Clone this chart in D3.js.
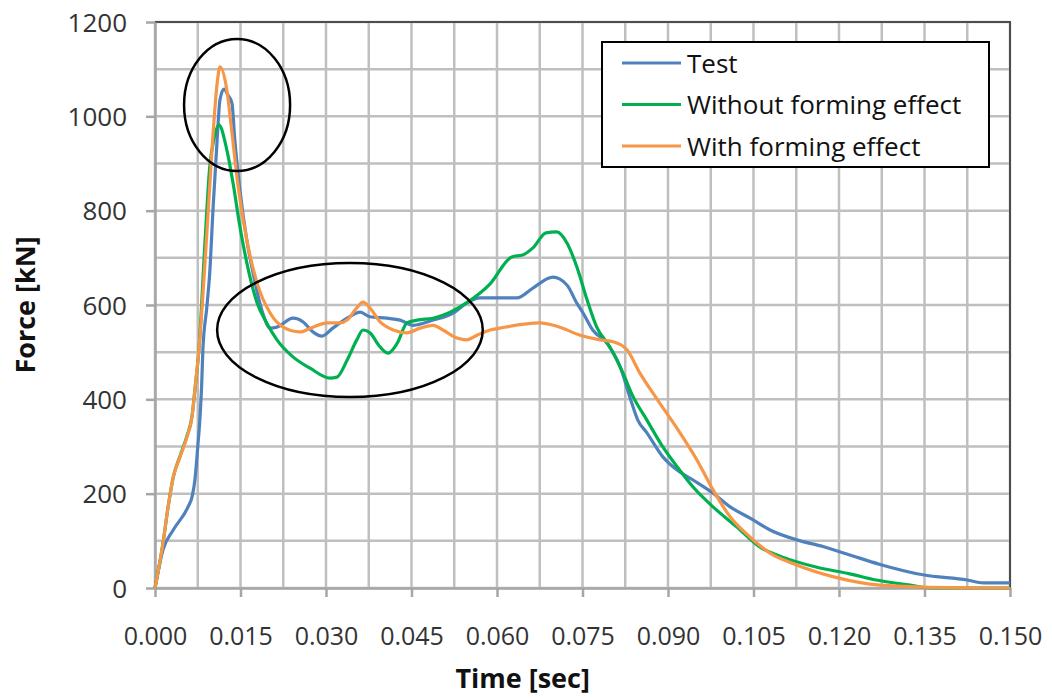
<!DOCTYPE html>
<html>
<head>
<meta charset="utf-8">
<script src="https://cdn.jsdelivr.net/npm/d3@7"></script>
<style>
  html, body { margin: 0; padding: 0; background: #fff; }
  svg { display: block; font-family: "Open Sans", "Liberation Sans", sans-serif; }
</style>
</head>
<body>
<svg id="chart" width="1052" height="700"></svg>
<script>
// ---- data: impact force history ----
const seriesNames = ["Test", "Without forming effect", "With forming effect"];

// Test measurement
const testTime  = [0,0.0014,0.0032,0.0058,0.0065,0.0070,0.0075,0.0079,0.0082,0.0084,0.0091,0.0096,0.0102,0.0109,0.0114,0.0121,0.0128,0.0135,0.0140,0.0149,0.0161,0.0172,0.0189,0.0202,0.0214,0.0242,0.0260,0.0277,0.0293,0.0312,0.0337,0.0360,0.0377,0.0407,0.0430,0.0453,0.0488,0.0523,0.0547,0.0570,0.0635,0.0663,0.0698,0.0723,0.0740,0.0751,0.0768,0.0793,0.0816,0.0833,0.0847,0.0863,0.0891,0.0916,0.0944,0.0979,0.1009,0.1044,0.1079,0.1126,0.1172,0.1219,0.1272,0.1347,0.1425,0.1453,0.1500];
const testForce = [0,81,123,172,193,229,299,363,435,505,596,668,808,950,1035,1058,1045,1028,950,844,738,668,583,551,553,572,564,543,534,551,572,585,575,572,568,557,568,583,604,615,615,636,659,642,604,583,547,519,469,405,356,329,278,250,229,201,172,148,123,102,88,70,50,28,17,11,11];

// Simulation without forming effect
const withoutTime  = [0,0.0014,0.0023,0.0032,0.0044,0.0056,0.0065,0.0070,0.0077,0.0088,0.0096,0.0104,0.0112,0.0126,0.0137,0.0149,0.0161,0.0179,0.0196,0.0214,0.0242,0.0272,0.0307,0.0319,0.0337,0.0354,0.0365,0.0377,0.0395,0.0409,0.0425,0.0442,0.0460,0.0488,0.0518,0.0547,0.0588,0.0626,0.0645,0.0663,0.0686,0.0705,0.0723,0.0740,0.0758,0.0775,0.0798,0.0821,0.0837,0.0863,0.0891,0.0916,0.0944,0.0979,0.1021,0.1061,0.1100,0.1158,0.1219,0.1265,0.1325,0.1360,0.1500];
const withoutForce = [0,95,172,235,280,322,365,420,505,740,893,955,982,929,858,766,690,605,562,526,490,466,445,447,483,526,547,541,511,498,519,562,568,572,585,605,645,702,706,721,753,755,731,681,611,553,511,456,410,356,299,257,214,172,129,87,66,45,30,17,6,0,0];

// Simulation with forming effect
const withTime  = [0,0.0014,0.0023,0.0032,0.0044,0.0056,0.0065,0.0070,0.0077,0.0091,0.0100,0.0109,0.0114,0.0126,0.0135,0.0146,0.0161,0.0179,0.0202,0.0225,0.0254,0.0277,0.0302,0.0325,0.0337,0.0354,0.0365,0.0377,0.0395,0.0418,0.0442,0.0465,0.0488,0.0505,0.0530,0.0547,0.0565,0.0588,0.0605,0.0675,0.0705,0.0746,0.0781,0.0804,0.0828,0.0851,0.0881,0.0921,0.0951,0.0979,0.1009,0.1044,0.1079,0.1119,0.1196,0.1272,0.1347,0.1500];
const withForce = [0,95,172,235,278,320,363,420,505,753,929,1070,1105,1056,965,850,738,647,583,553,543,553,562,562,568,594,606,594,564,547,541,551,557,547,530,526,536,547,551,562,555,536,526,522,505,455,400,329,271,208,151,108,74,52,22,6,2,0];

// axis ticks
const timeTicks  = [0,0.015,0.030,0.045,0.060,0.075,0.090,0.105,0.120,0.135,0.150];
const forceTicks = [0,200,400,600,800,1000,1200];
const timeGrid   = d3.range(0, 0.15001, 0.0075);
const forceGrid  = d3.range(0, 1201, 100);

// highlighted regions (centre time, centre force, half-width in time, half-height in force)
const regionCenterTime  = [0.0144, 0.0342];
const regionCenterForce = [1024, 547];
const regionHalfTime    = [0.0093, 0.0233];
const regionHalfForce   = [140, 142];

// ---- layout ----
const svg = d3.select("#chart");
const margin = { left: 155, top: 22, right: 42, bottom: 112 };
const W = 1052 - margin.left - margin.right;   // 855
const H = 700 - margin.top - margin.bottom;    // 566

const x = d3.scaleLinear().domain([0, 0.15]).range([0, W]);
const y = d3.scaleLinear().domain([0, 1200]).range([H, 0]);

const g = svg.append("g").attr("transform", `translate(${margin.left},${margin.top})`);

// gridlines
g.append("g").selectAll("line").data(timeGrid).join("line")
  .attr("x1", d => x(d)).attr("x2", d => x(d))
  .attr("y1", 0).attr("y2", H)
  .attr("stroke", "#bfbfbf").attr("stroke-width", 2.5);
g.append("g").selectAll("line").data(forceGrid).join("line")
  .attr("x1", 0).attr("x2", W)
  .attr("y1", d => y(d)).attr("y2", d => y(d))
  .attr("stroke", "#bfbfbf").attr("stroke-width", 2.5);

// plot frame: top and right edges
g.append("path")
  .attr("d", `M0,${y(1200)}H${x(0.15)}V${y(0)}`)
  .attr("fill", "none").attr("stroke", "#4d4d4d").attr("stroke-width", 2);

// axes
const xAxis = d3.axisBottom(x).tickValues(timeTicks).tickFormat(d3.format(".3f")).tickSize(9).tickSizeOuter(0);
const yAxis = d3.axisLeft(y).tickValues(forceTicks).tickFormat(d3.format("d")).tickSize(9).tickSizeOuter(0);

const gx = g.append("g").attr("transform", `translate(0,${H})`).call(xAxis);
const gy = g.append("g").call(yAxis);

[gx, gy].forEach(a => {
  a.select(".domain").attr("stroke", "#a6a6a6").attr("stroke-width", 2.5);
  a.selectAll(".tick line").attr("stroke", "#a6a6a6").attr("stroke-width", 2.5);
  a.selectAll(".tick text").attr("fill", "#333").attr("font-family", "'Open Sans', sans-serif");
});
gx.selectAll(".tick text").attr("font-size", 25).attr("y", 57).attr("dy", 0);
gy.selectAll(".tick text").attr("font-size", 26).attr("x", -28).attr("dy", "0.35em");

// axis titles
svg.append("text")
  .attr("x", margin.left + x(0.0645)).attr("y", 688)
  .attr("text-anchor", "middle")
  .attr("font-size", 27).attr("font-weight", "bold").attr("fill", "#111")
  .text("Time [sec]");
svg.append("text")
  .attr("transform", `translate(35,${margin.top + y(600)}) rotate(-90)`)
  .attr("text-anchor", "middle")
  .attr("font-size", 27).attr("font-weight", "bold").attr("fill", "#111")
  .text("Force [kN]");

// series
const colors = ["#4f81bd", "#00b050", "#f79646"];
const series = [
  d3.zip(testTime, testForce),
  d3.zip(withoutTime, withoutForce),
  d3.zip(withTime, withForce)
];
const line = d3.line()
  .x(d => x(d[0])).y(d => y(d[1]))
  .curve(d3.curveMonotoneX);

g.append("g").selectAll("path").data(series).join("path")
  .attr("d", line)
  .attr("fill", "none")
  .attr("stroke", (d, i) => colors[i])
  .attr("stroke-width", 3.2)
  .attr("stroke-linejoin", "round");

// highlighted regions
g.append("g").selectAll("ellipse").data(regionCenterTime).join("ellipse")
  .attr("cx", (d, i) => x(regionCenterTime[i]))
  .attr("cy", (d, i) => y(regionCenterForce[i]))
  .attr("rx", (d, i) => x(regionHalfTime[i]) - x(0))
  .attr("ry", (d, i) => y(0) - y(regionHalfForce[i]))
  .attr("fill", "none").attr("stroke", "#000").attr("stroke-width", 2.5);

// legend
const legend = svg.append("g").attr("transform", "translate(602,42)");
legend.append("rect")
  .attr("width", 387).attr("height", 125)
  .attr("fill", "#fff").attr("stroke", "#000").attr("stroke-width", 2);
const items = legend.selectAll("g.item").data(seriesNames).join("g")
  .attr("class", "item")
  .attr("transform", (d, i) => `translate(0,${21 + i * 41.5})`);
items.append("line")
  .attr("x1", 20).attr("x2", 79)
  .attr("stroke", (d, i) => colors[i]).attr("stroke-width", 3.2);
items.append("text")
  .attr("x", 85).attr("y", 9.5)
  .attr("font-size", 26).attr("fill", "#111")
  .text(d => d);
</script>
</body>
</html>
